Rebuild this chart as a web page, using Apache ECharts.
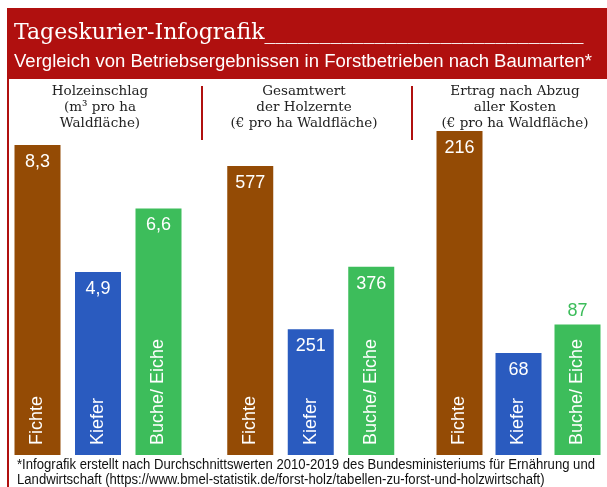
<!DOCTYPE html>
<html>
<head>
<meta charset="utf-8">
<script src="https://cdn.jsdelivr.net/npm/echarts@6/dist/echarts.min.js"></script>
<style>
html,body{margin:0;padding:0;background:#fff;}
#chart{width:607px;height:487px;}
</style>
</head>
<body>
<div id="chart"></div>
<script>
const categories = ['Fichte', 'Kiefer', 'Buche/ Eiche'];
const holzeinschlag = [8.3, 4.9, 6.6];
const gesamtwert = [577, 251, 376];
const ertrag = [216, 68, 87];
const panelTitles = [
  'Holzeinschlag\n(m³ pro ha\nWaldfläche)',
  'Gesamtwert\nder Holzernte\n(€ pro ha Waldfläche)',
  'Ertrag nach Abzug\naller Kosten\n(€ pro ha Waldfläche)'
];
const headerTitle = 'Tageskurier-Infografik_____________________________';
const headerSubtitle = 'Vergleich von Betriebsergebnissen in Forstbetrieben nach Baumarten*';
const footnoteLines = [
  '*Infografik erstellt nach Durchschnittswerten 2010-2019 des Bundesministeriums für Ernährung und',
  'Landwirtschaft (https://www.bmel-statistik.de/forst-holz/tabellen-zu-forst-und-holzwirtschaft)'
];

const barColors = ['#944b05', '#2a5bbf', '#3dbd5b'];
const RED = '#b0100f';
const SANS = "'Liberation Sans', Arial, sans-serif";
const SERIF = "'DejaVu Serif', 'Liberation Serif', serif";

const ctx = document.createElement('canvas').getContext('2d');
function textWidth(t, size) { ctx.font = size + 'px ' + SANS; return ctx.measureText(t).width; }

const panels = [
  {data: holzeinschlag, left: 7.25, top: 145, height: 310},
  {data: gesamtwert, left: 220, top: 166, height: 289},
  {data: ertrag, left: 430, top: 131, height: 324}
];
const LABEL_SIZE = 18;

const grids = [], xAxes = [], yAxes = [], series = [];
panels.forEach((p, i) => {
  const max = Math.max(...p.data);
  grids.push({left: p.left, top: p.top, width: 181.5, height: p.height});
  xAxes.push({type: 'category', gridIndex: i, data: categories, show: false});
  yAxes.push({type: 'value', gridIndex: i, min: 0, max: max, show: false});
  series.push({
    type: 'bar', xAxisIndex: i, yAxisIndex: i, barWidth: 46,
    data: p.data.map((v, k) => {
      const barPx = v / max * p.height;
      const need = textWidth(categories[k], LABEL_SIZE) + 10 + 32;
      const item = {value: v, itemStyle: {color: barColors[k]}};
      if (barPx < need) item.label = {position: 'top', distance: 4, color: barColors[k]};
      return item;
    }),
    label: {
      show: true, position: 'insideTop', distance: 8, color: '#fff',
      fontFamily: SANS, fontSize: LABEL_SIZE,
      formatter: (d) => String(d.value).replace('.', ',')
    }
  });
  series.push({
    type: 'bar', xAxisIndex: i, yAxisIndex: i, barWidth: 46, barGap: '-100%',
    data: p.data, itemStyle: {color: 'rgba(0,0,0,0)'}, z: 5, silent: true,
    label: {
      show: true, position: 'insideBottom', distance: 10, rotate: 90,
      align: 'left', verticalAlign: 'middle', color: '#fff',
      fontFamily: SANS, fontSize: LABEL_SIZE,
      formatter: (d) => categories[d.dataIndex]
    }
  });
});

function fitText(t, size, target) { return target / textWidth(t, size); }

const panelCenters = [100, 304, 515];
const graphic = [
  {type: 'rect', shape: {x: 7, y: 8, width: 600, height: 71}, style: {fill: RED}},
  {type: 'rect', shape: {x: 7, y: 78, width: 2, height: 409}, style: {fill: RED}},
  {type: 'rect', shape: {x: 201, y: 86, width: 2, height: 54}, style: {fill: RED}},
  {type: 'rect', shape: {x: 411, y: 86, width: 2, height: 54}, style: {fill: RED}},
  {type: 'text', x: 14, y: 33, style: {text: headerTitle, x: 0, y: 0, fill: '#fff', fontFamily: SERIF, fontSize: 22, verticalAlign: 'middle'}},
  {type: 'text', x: 14, y: 62, scaleX: fitText(headerSubtitle, 18, 578),
    style: {text: headerSubtitle, x: 0, y: 0, fill: '#fff', fontFamily: SANS, fontSize: 18, verticalAlign: 'middle'}}
];
footnoteLines.forEach((t, i) => {
  graphic.push({type: 'text', x: 17, y: 465 + i * 15, scaleX: fitText(footnoteLines[0], 14, 578),
    style: {text: t, x: 0, y: 0, fill: '#111', fontFamily: SANS, fontSize: 14, verticalAlign: 'middle'}});
});
panelTitles.forEach((t, i) => {
  graphic.push({type: 'text', style: {text: t, x: panelCenters[i], y: 83, fill: '#222', fontFamily: SERIF, fontSize: 13.5, lineHeight: 16, align: 'center', verticalAlign: 'top'}});
});

const chart = echarts.init(document.getElementById('chart'), null, {renderer: 'canvas'});
chart.setOption({
  animation: false,
  backgroundColor: '#fff',
  grid: grids, xAxis: xAxes, yAxis: yAxes, series: series,
  graphic: graphic
});
</script>
</body>
</html>
